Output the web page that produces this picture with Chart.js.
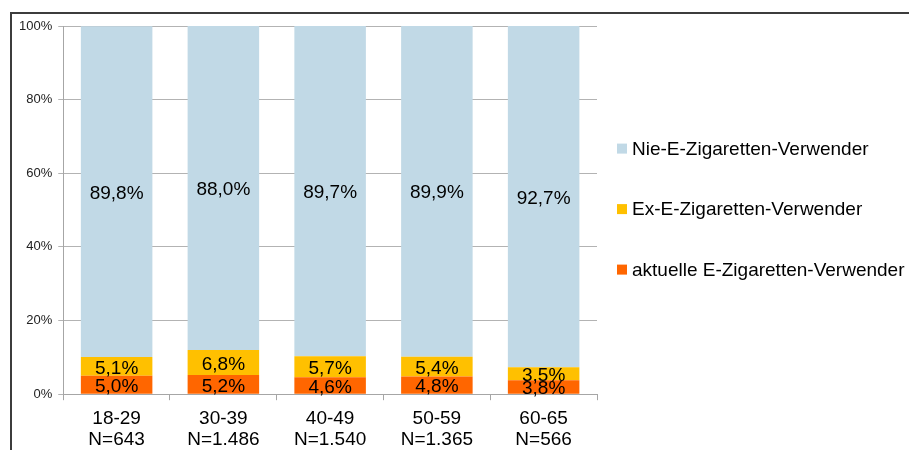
<!DOCTYPE html>
<html>
<head>
<meta charset="utf-8">
<script src="https://cdn.jsdelivr.net/npm/chart.js@4.4.1/dist/chart.umd.min.js"></script>
<style>
  html, body { margin: 0; padding: 0; background: #fff; }
  #wrap { position: relative; width: 909px; height: 450px; overflow: hidden; }
  #frame {
    position: absolute; left: 10px; top: 12px; width: 905px; height: 460px;
    border-top: 2px solid #3c3c3c; border-left: 2px solid #3c3c3c;
    pointer-events: none;
  }
  canvas { position: absolute; left: 0; top: 0; }
</style>
</head>
<body>
<div id="wrap">
  <canvas id="chart" width="909" height="458"></canvas>
  <div id="frame"></div>
</div>
<script>
// age groups (two-line category labels)
const ageGroups = ["18-29", "30-39", "40-49", "50-59", "60-65"];
const sampleSizes = ["N=643", "N=1.486", "N=1.540", "N=1.365", "N=566"];

// shares in percent, bottom to top of each stack
const aktuelle = [5.0, 5.2, 4.6, 4.8, 3.8];
const exUser = [5.1, 6.8, 5.7, 5.4, 3.5];
const nieUser = [89.8, 88.0, 89.7, 89.9, 92.7];

const yTicks = [0, 20, 40, 60, 80, 100];

const FONT = "'Liberation Sans', Arial, sans-serif";

// values written into the middle of each segment
const segmentLabels = {
  id: "segmentLabels",
  afterDatasetsDraw(chart) {
    const ctx = chart.ctx;
    ctx.save();
    ctx.font = "19px " + FONT;
    ctx.fillStyle = "#000";
    ctx.textAlign = "center";
    ctx.textBaseline = "middle";
    chart.data.datasets.forEach((ds, i) => {
      const meta = chart.getDatasetMeta(i);
      meta.data.forEach((bar, j) => {
        const v = ds.data[j];
        const y = (bar.y + bar.base) / 2 + 2;
        ctx.fillText(v.toFixed(1).replace(".", ",") + "%", bar.x, y);
      });
    });
    ctx.restore();
  },
};

// legend on the right, top entry = top of stack
const sideLegend = {
  id: "sideLegend",
  afterDraw(chart) {
    const ctx = chart.ctx;
    const ds = chart.data.datasets.slice().reverse();
    const x0 = chart.chartArea.right + 20;
    const yMid = (chart.chartArea.top + chart.chartArea.bottom) / 2 - 1;
    const gap = 60.5;
    ctx.save();
    ctx.font = "19px " + FONT;
    ctx.textBaseline = "middle";
    ctx.textAlign = "left";
    ds.forEach((d, i) => {
      const y = yMid + (i - 1) * gap;
      ctx.fillStyle = d.backgroundColor;
      ctx.fillRect(x0, y - 5, 10, 10);
      ctx.fillStyle = "#000";
      ctx.fillText(d.label, x0 + 15, y + 1);
    });
    ctx.restore();
  },
};

new Chart(document.getElementById("chart"), {
  type: "bar",
  data: {
    labels: ageGroups.map((a, i) => [a, sampleSizes[i]]),
    datasets: [
      {
        label: "aktuelle E-Zigaretten-Verwender",
        data: aktuelle,
        backgroundColor: "#FF6600",
      },
      {
        label: "Ex-E-Zigaretten-Verwender",
        data: exUser,
        backgroundColor: "#FFC000",
      },
      {
        label: "Nie-E-Zigaretten-Verwender",
        data: nieUser,
        backgroundColor: "#C1D9E6",
      },
    ],
  },
  options: {
    responsive: false,
    animation: false,
    categoryPercentage: 1,
    barPercentage: 0.67,
    layout: {
      padding: { left: 13, right: 312, top: 26, bottom: 0 },
    },
    plugins: {
      legend: { display: false },
      tooltip: { enabled: false },
    },
    scales: {
      x: {
        stacked: true,
        border: { color: "#a6a6a6" },
        grid: {
          offset: true,
          drawOnChartArea: false,
          drawTicks: true,
          tickLength: 6,
          color: "#a6a6a6",
        },
        ticks: {
          color: "#000",
          padding: 8,
          maxRotation: 0,
          font: { family: FONT, size: 19, lineHeight: 1.1 },
        },
      },
      y: {
        stacked: true,
        min: 0,
        max: 100,
        afterBuildTicks(axis) {
          axis.ticks = yTicks.map((v) => ({ value: v }));
        },
        border: { color: "#a6a6a6" },
        grid: {
          color: "#b3b3b3",
          tickLength: 5,
        },
        ticks: {
          color: "#222",
          padding: 6,
          font: { family: FONT, size: 13 },
          callback: (v) => v + "%",
        },
      },
    },
  },
  plugins: [segmentLabels, sideLegend],
});
</script>
</body>
</html>
